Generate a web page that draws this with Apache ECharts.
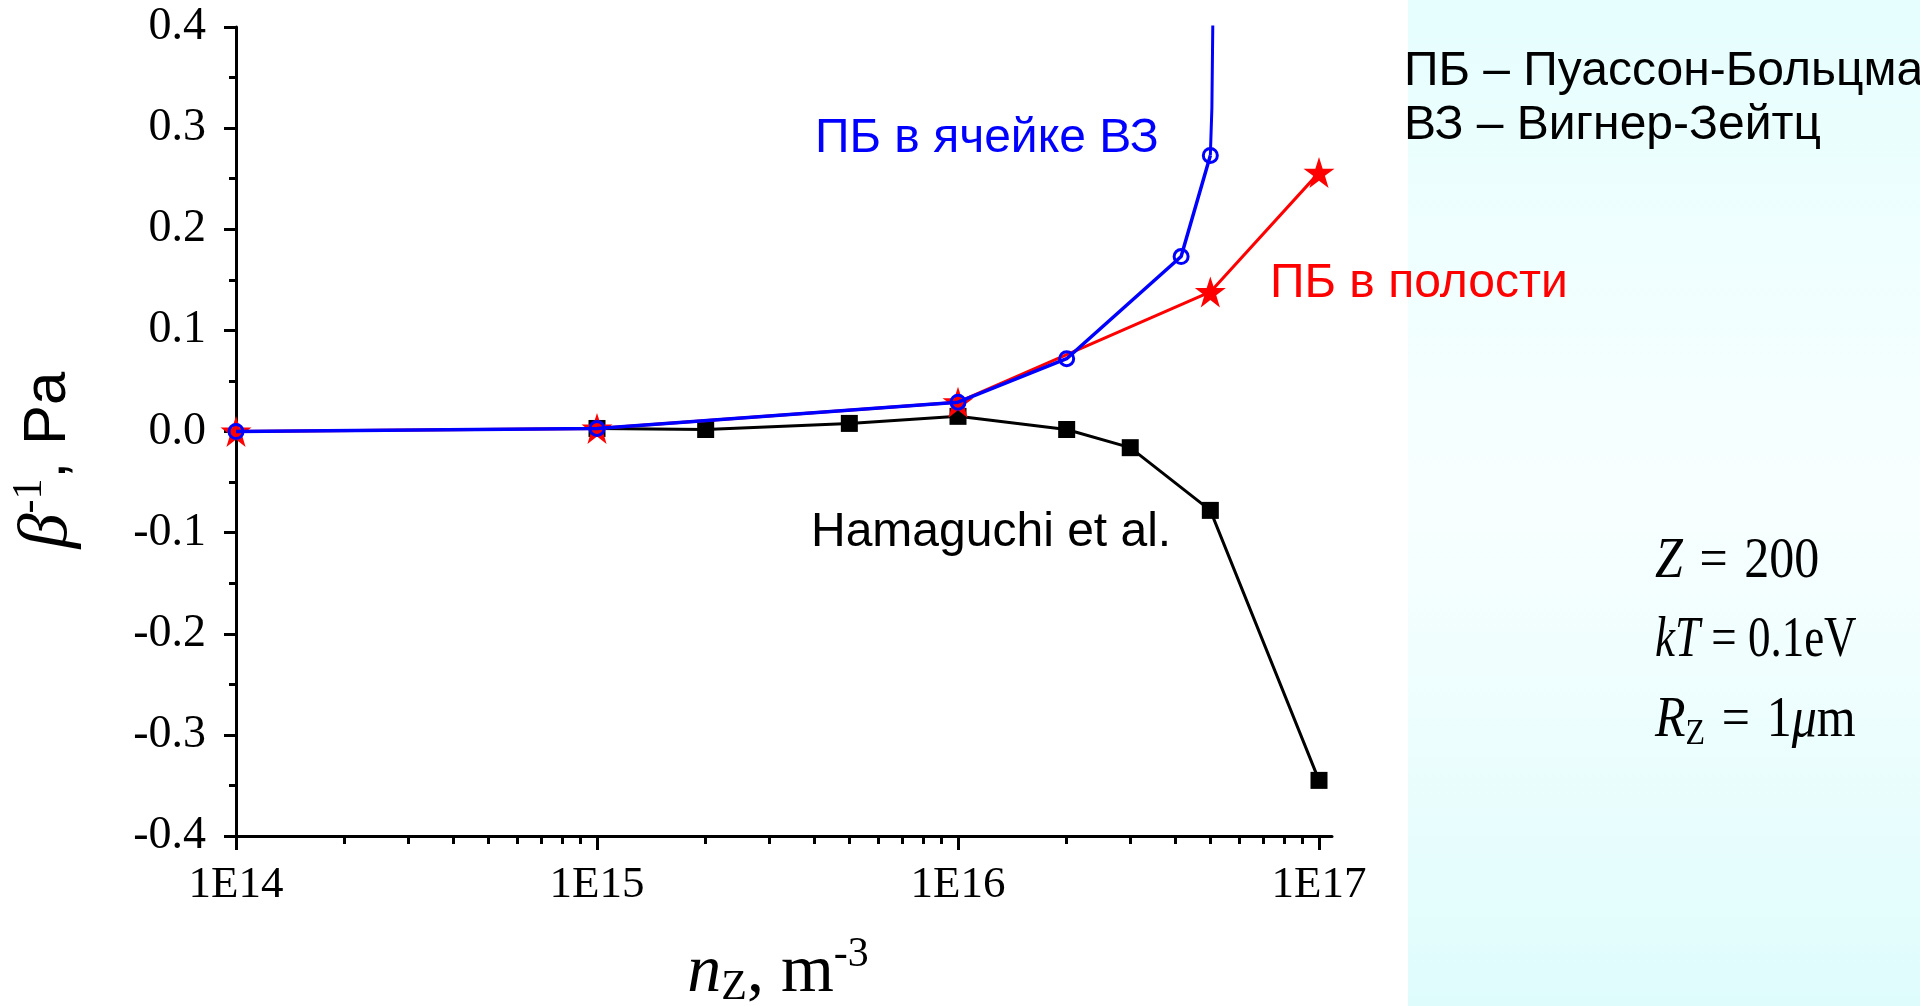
<!DOCTYPE html>
<html><head><meta charset="utf-8">
<script src="https://cdn.jsdelivr.net/npm/echarts@6/dist/echarts.min.js"></script>
<style>html,body{margin:0;padding:0;background:#fff}#c{width:1920px;height:1006px}</style>
</head><body><div id="c"></div>
<script>
// ---- data (n_Z in m^-3, beta^-1 in Pa) ----
const xDecades = [14, 15, 16, 17];
const xTickLabels = ['1E14', '1E15', '1E16', '1E17'];
const yTickLabels = ['-0.4', '-0.3', '-0.2', '-0.1', '0.0', '0.1', '0.2', '0.3', '0.4'];

const nHamaguchi = [1e15, 2e15, 5e15, 1e16, 2e16, 3e16, 5e16, 1e17];
const betaHamaguchi = [0.003, 0.002, 0.008, 0.015, 0.002, -0.016, -0.078, -0.345];

const nCavity = [1e14, 1e15, 1e16, 5e16, 1e17];
const betaCavity = [0.0, 0.003, 0.029, 0.138, 0.256];

const nCell = [1e14, 1e15, 1e16, 2e16, 4.15e16, 5e16];
const betaCell = [0.0, 0.003, 0.029, 0.072, 0.173, 0.273];

const nCellBranch = [5e16, 5.05e16, 5.15e16];
const betaCellBranch = [0.273, 0.32, 0.6];

// ---- build ----
const toPts = (ns, bs) => ns.map((n, i) => [Math.log10(n), bs[i]]);
const minorTicks = [];
xDecades.slice(0, -1).forEach(d => { for (let k = 2; k <= 9; k++) minorTicks.push(d + Math.log10(k)); });

const XMIN = 14, XMAX = 17.036;
const serif = 'Liberation Serif', sans = 'Liberation Sans';
const annFont = '48px "Liberation Sans"';

const chart = echarts.init(document.getElementById('c'), null, {renderer: 'canvas'});
chart.setOption({
  backgroundColor: '#ffffff',
  animation: false,
  grid: {left: 236, top: 27, width: 1096, height: 809, containLabel: false},
  xAxis: [{
    type: 'value', min: XMIN, max: XMAX, position: 'bottom',
    axisLine: {onZero: false, lineStyle: {color: '#000', width: 3}},
    axisTick: {customValues: xDecades, length: 14, lineStyle: {color: '#000', width: 3}},
    axisLabel: {customValues: xDecades, margin: 27, color: '#000', fontFamily: serif, fontSize: 45,
      formatter: v => xTickLabels[xDecades.indexOf(Math.round(v))]},
    splitLine: {show: false}
  }, {
    type: 'value', min: XMIN, max: XMAX, position: 'bottom',
    axisLine: {show: false, onZero: false},
    axisTick: {customValues: minorTicks, length: 8, lineStyle: {color: '#000', width: 3}},
    axisLabel: {show: false},
    splitLine: {show: false}
  }],
  yAxis: {
    type: 'value', min: -0.4, max: 0.4, interval: 0.1,
    axisLine: {show: true, onZero: false, lineStyle: {color: '#000', width: 3}},
    axisTick: {show: true, length: 12, lineStyle: {color: '#000', width: 3}},
    minorTick: {show: true, splitNumber: 2, length: 7, lineStyle: {color: '#000', width: 3}},
    axisLabel: {margin: 30, color: '#000', fontFamily: serif, fontSize: 46,
      formatter: v => yTickLabels[Math.round(v * 10) + 4]},
    splitLine: {show: false}
  },
  series: [{
    name: 'Hamaguchi et al.', type: 'line', data: toPts(nHamaguchi, betaHamaguchi),
    symbol: 'rect', symbolSize: 17, lineStyle: {color: '#000', width: 3},
    itemStyle: {color: '#000'}, z: 2
  }, {
    name: 'ПБ в полости', type: 'line', data: toPts(nCavity, betaCavity),
    symbol: 'path://M50,0 L61.8,35.4 L100,35.4 L69.1,57.3 L80.9,95.1 L50,72.4 L19.1,95.1 L30.9,57.3 L0,35.4 L38.2,35.4 Z',
    symbolSize: 31, lineStyle: {color: '#ff0000', width: 3},
    itemStyle: {color: '#ff0000'}, z: 3
  }, {
    name: 'ПБ в ячейке ВЗ', type: 'line', data: toPts(nCell, betaCell),
    symbol: 'circle', symbolSize: 14, lineStyle: {color: '#0000ff', width: 3.5},
    itemStyle: {color: 'rgba(0,0,0,0)', borderColor: '#0000ff', borderWidth: 3}, z: 4
  }, {
    name: 'ПБ в ячейке ВЗ (ветвь)', type: 'line', data: toPts(nCellBranch, betaCellBranch),
    symbol: 'none', lineStyle: {color: '#0000ff', width: 3}, z: 4, clip: true
  }],
  graphic: [
    {type: 'rect', z: -10, silent: true, shape: {x: 1408, y: 0, width: 512, height: 1006},
      style: {fill: new echarts.graphic.LinearGradient(0, 0, 0, 1, [
        {offset: 0, color: '#E6FEFE'}, {offset: 0.5, color: '#F8FFFF'}, {offset: 1, color: '#DFFCFC'}])}},
    {type: 'text', z: 100, x: 815, y: 139, style: {text: 'ПБ в ячейке ВЗ', fill: '#0000ff',
      font: annFont, textVerticalAlign: 'middle'}},
    {type: 'text', z: 100, x: 1270, y: 284, style: {text: 'ПБ в полости', fill: '#ff0000',
      font: annFont, textVerticalAlign: 'middle'}},
    {type: 'text', z: 100, x: 811, y: 533, style: {text: 'Hamaguchi et al.', fill: '#000',
      font: annFont, textVerticalAlign: 'middle'}},
    {type: 'text', z: 100, x: 1404, y: 72, style: {text: 'ПБ – Пуассон-Больцман', fill: '#000',
      font: annFont, textVerticalAlign: 'middle'}},
    {type: 'text', z: 100, x: 1404, y: 126, style: {text: 'ВЗ – Вигнер-Зейтц', fill: '#000',
      font: annFont, textVerticalAlign: 'middle'}},
    {type: 'text', z: 100, x: 1655, y: 562, scaleY: 1.15, style: {text: '{i|Z}\u2004=\u2004200', fill: '#000',
      font: '50px "Liberation Serif"', textVerticalAlign: 'middle',
      rich: {i: {fontFamily: serif, fontStyle: 'italic', fontSize: 50}}}},
    {type: 'text', z: 100, x: 1655, y: 641, scaleY: 1.15, scaleX: 0.9, style: {text: '{i|kT} = 0.1eV', fill: '#000',
      font: '50px "Liberation Serif"', textVerticalAlign: 'middle',
      rich: {i: {fontFamily: serif, fontStyle: 'italic', fontSize: 50}}}},
    {type: 'text', z: 100, x: 1655, y: 721, scaleY: 1.15, style: {text: '{i|R}{s|Z}\u2004=\u20041{i|μ}m', fill: '#000',
      font: '50px "Liberation Serif"', textVerticalAlign: 'middle',
      rich: {i: {fontFamily: serif, fontStyle: 'italic', fontSize: 50},
             s: {fontFamily: serif, fontSize: 32, padding: [24, 0, 0, 0]}}}},
    {type: 'text', z: 100, x: 778, y: 973, style: {text: '{n|n}{s|Z}{t|, m}{p|-3}', fill: '#000',
      textAlign: 'center', textVerticalAlign: 'middle',
      rich: {n: {fontFamily: serif, fontStyle: 'italic', fontSize: 68},
             s: {fontFamily: serif, fontSize: 42, padding: [30, 0, 0, 0]},
             t: {fontFamily: serif, fontSize: 68},
             p: {fontFamily: serif, fontSize: 42, padding: [0, 0, 36, 0]}}}},
    {type: 'text', z: 100, x: 48, y: 460, rotation: Math.PI / 2, style: {text: '{b|β}{p|-1}{a|, Pa}', fill: '#000',
      textAlign: 'center', textVerticalAlign: 'middle',
      rich: {b: {fontFamily: serif, fontStyle: 'italic', fontSize: 70},
             p: {fontFamily: serif, fontSize: 42, padding: [0, 0, 36, 0]},
             a: {fontFamily: sans, fontSize: 60}}}}
  ]
});
</script></body></html>
